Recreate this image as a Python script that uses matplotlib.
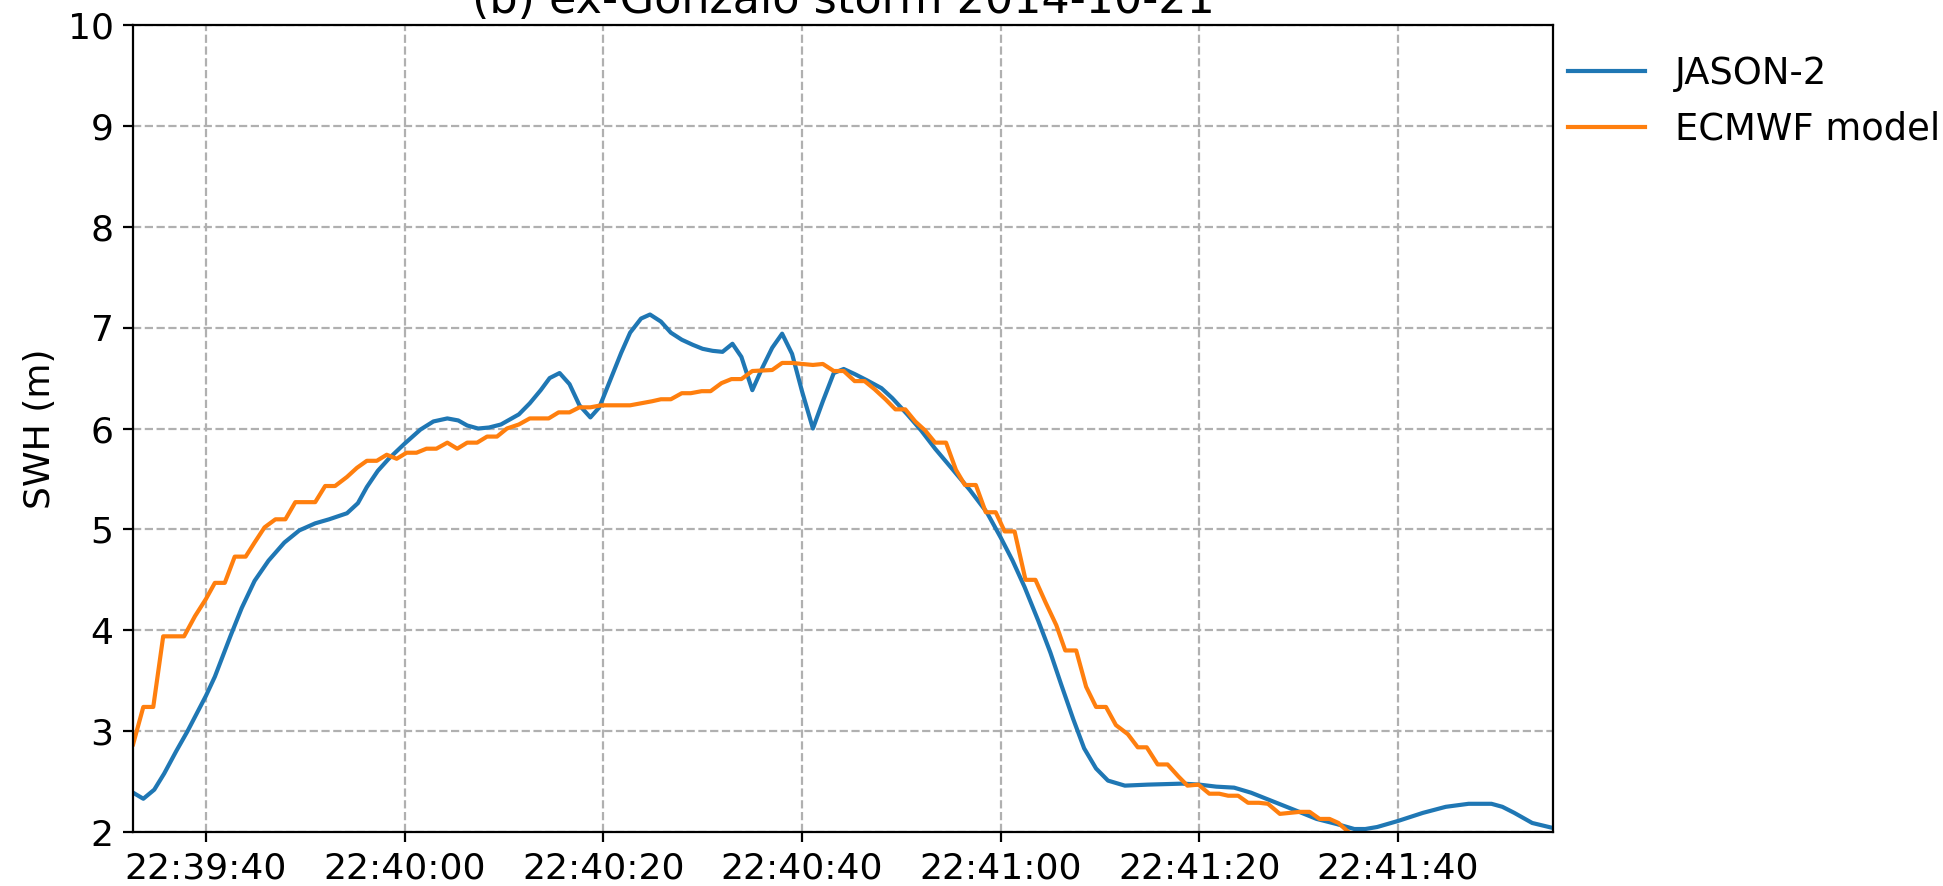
import datetime as dt
import matplotlib
matplotlib.use("Agg")
import matplotlib.pyplot as plt
import matplotlib.dates as mdates

# Seconds relative to 22:39:40 UTC on 2014-10-21
jason_t = [-7.33, -6.3, -5.2, -4.2, -3.0, -1.85, 0.0, 0.9, 2.5, 3.6, 4.9, 6.3, 7.9, 9.4,
           11.0, 12.4, 13.3, 14.2, 15.3, 16.2, 17.3, 18.4, 20.0, 21.6, 22.9, 24.3, 25.4,
           26.3, 27.4, 28.5, 29.7, 31.5, 32.6, 33.7, 34.6, 35.6, 36.6, 37.6, 38.7, 39.6,
           40.7, 41.8, 42.7, 43.8, 44.7, 45.8, 46.8, 47.9, 49.0, 50.0, 51.0, 52.0, 53.0,
           53.9, 55.0, 56.0, 57.0, 58.0, 59.0, 60.0, 61.1, 62.1, 63.2, 64.2, 65.3, 66.5,
           68.0, 69.1, 70.6, 72.0, 73.4, 75.2, 76.9, 78.6, 80.0, 81.2, 82.4, 83.8, 85.0,
           86.1, 87.3, 88.4, 89.6, 90.8, 92.5, 94.8, 98.3, 100.0, 101.7, 103.5, 105.2,
           107.5, 109.8, 111.8, 113.8, 115.6, 116.7, 117.9, 120.0, 122.5, 124.8, 127.1,
           129.4, 130.5, 131.7, 133.5, 135.6]
jason_swh = [2.39, 2.33, 2.42, 2.58, 2.80, 3.00, 3.35, 3.54, 3.95, 4.22, 4.49, 4.69, 4.87, 4.99,
             5.06, 5.10, 5.13, 5.16, 5.26, 5.42, 5.58, 5.70, 5.85, 5.99, 6.07, 6.10, 6.08,
             6.03, 6.00, 6.01, 6.04, 6.14, 6.25, 6.38, 6.50, 6.55, 6.44, 6.23, 6.11, 6.21,
             6.48, 6.75, 6.95, 7.09, 7.13, 7.06, 6.95, 6.88, 6.83, 6.79, 6.77, 6.76, 6.84,
             6.71, 6.38, 6.60, 6.80, 6.94, 6.74, 6.37, 6.00, 6.27, 6.55, 6.59, 6.54, 6.48,
             6.40, 6.30, 6.14, 5.98, 5.80, 5.59, 5.39, 5.17, 4.92, 4.69, 4.43, 4.09, 3.78,
             3.46, 3.12, 2.83, 2.63, 2.51, 2.46, 2.47, 2.48, 2.47, 2.45, 2.44, 2.39,
             2.30, 2.21, 2.13, 2.08, 2.03, 2.03, 2.05, 2.11, 2.19, 2.25, 2.28,
             2.28, 2.25, 2.19, 2.09, 2.04]

ecmwf_t = [-7.33, -6.3, -5.3, -4.3, -2.2, -1.1, 0.0, 0.9, 1.9, 2.9, 4.0, 4.9, 5.9, 7.0, 8.0,
           9.0, 11.0, 12.0, 13.0, 14.2, 15.2, 16.2, 17.2, 18.2, 19.2, 20.2, 21.2, 22.2, 23.2,
           24.3, 25.3, 26.3, 27.3, 28.3, 29.3, 30.3, 31.5, 32.6, 34.5, 35.5, 36.6, 37.6, 38.7,
           39.8, 42.7, 43.8, 44.9, 45.8, 46.8, 47.9, 48.8, 49.9, 50.8, 51.9, 52.9, 53.9, 55.0,
           57.0, 58.0, 59.0, 60.0, 61.1, 62.1, 63.2, 64.2, 65.3, 66.3, 67.3, 68.4, 69.4, 70.4,
           71.4, 72.4, 73.4, 74.5, 75.5, 76.4, 77.5, 78.5, 79.5, 80.4, 81.4, 82.5, 83.5, 84.5,
           85.6, 86.5, 87.6, 88.6, 89.6, 90.6, 91.6, 92.8, 93.8, 94.7, 95.8, 96.8, 97.9, 98.8,
           99.9, 101.0, 102.0, 102.9, 103.9, 104.9, 106.0, 106.9, 108.1, 109.1, 110.1, 111.1,
           112.1, 113.1, 114.0, 115.0, 116.0]
ecmwf_swh = [2.87, 3.24, 3.24, 3.94, 3.94, 4.14, 4.31, 4.47, 4.47, 4.73, 4.73, 4.87, 5.02, 5.10, 5.10,
             5.27, 5.27, 5.43, 5.43, 5.52, 5.61, 5.68, 5.68, 5.74, 5.70, 5.76, 5.76, 5.80, 5.80,
             5.86, 5.80, 5.86, 5.86, 5.92, 5.92, 6.00, 6.04, 6.10, 6.10, 6.16, 6.16, 6.21, 6.21,
             6.23, 6.23, 6.25, 6.27, 6.29, 6.29, 6.35, 6.35, 6.37, 6.37, 6.45, 6.49, 6.49, 6.57,
             6.58, 6.65, 6.65, 6.64, 6.63, 6.64, 6.57, 6.57, 6.47, 6.47, 6.39, 6.29, 6.19, 6.19,
             6.07, 5.98, 5.86, 5.86, 5.59, 5.44, 5.44, 5.17, 5.17, 4.98, 4.98, 4.50, 4.50, 4.28,
             4.05, 3.80, 3.80, 3.44, 3.24, 3.24, 3.06, 2.97, 2.84, 2.84, 2.67, 2.67, 2.55, 2.46,
             2.47, 2.38, 2.38, 2.36, 2.36, 2.29, 2.29, 2.28, 2.18, 2.19, 2.20, 2.20,
             2.13, 2.13, 2.09, 2.00, 1.95]

t_ref = dt.datetime(2014, 10, 21, 22, 39, 40)


def to_times(secs):
    return [t_ref + dt.timedelta(seconds=s) for s in secs]


jason_time = to_times(jason_t)
ecmwf_time = to_times(ecmwf_t)

plt.rcParams["font.family"] = "DejaVu Sans"

fig = plt.figure(figsize=(9.715, 4.43), dpi=200)
ax = fig.add_axes([0.0685, 0.0609, 0.7308, 0.9109])

ax.plot(jason_time, jason_swh, color="#1f77b4", lw=1.5, label="JASON-2")
ax.plot(ecmwf_time, ecmwf_swh, color="#ff7f0e", lw=1.5, label="ECMWF model")

ax.set_xlim(jason_time[0], jason_time[-1])
ax.set_ylim(2, 10)
ax.set_yticks(range(2, 11))
ax.xaxis.set_major_locator(mdates.SecondLocator(bysecond=[0, 20, 40]))
ax.xaxis.set_major_formatter(mdates.DateFormatter("%H:%M:%S"))
ax.tick_params(labelsize=13)
ax.grid(True, linestyle="--", color="#b0b0b0", lw=0.8)
ax.set_ylabel("SWH (m)", fontsize=13)
ax.set_title("(b) ex-Gonzalo storm 2014-10-21", fontsize=16, pad=4.3)

ax.legend(loc="upper left", bbox_to_anchor=(1.0, 0.981), borderaxespad=0,
          frameon=False, fontsize=13.3, handlelength=2.1)

fig.savefig("out.png", dpi=200)
